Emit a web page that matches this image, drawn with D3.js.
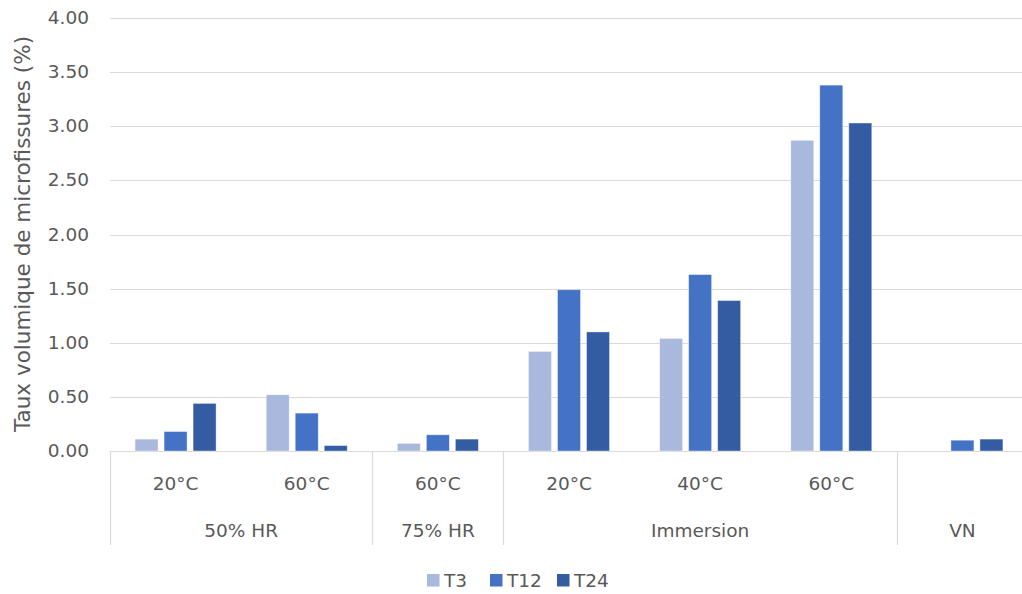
<!DOCTYPE html>
<html><head><meta charset="utf-8">
<script src="https://cdn.jsdelivr.net/npm/d3@7"></script>
<style>body{margin:0;background:#fff}svg{display:block;font-family:"DejaVu Sans",sans-serif}</style>
</head><body>
<script>
const categories = ["20°C","60°C","60°C","20°C","40°C","60°C",""];
const groups = [{name:"50% HR",count:2},{name:"75% HR",count:1},{name:"Immersion",count:3},{name:"VN",count:1}];
const seriesNames = ["T3","T12","T24"];
const T3  = [0.11,0.52,0.07,0.92,1.04,2.87,0];
const T12 = [0.18,0.35,0.15,1.49,1.63,3.38,0.10];
const T24 = [0.44,0.05,0.11,1.10,1.39,3.03,0.11];
const yTicks = [0,0.5,1,1.5,2,2.5,3,3.5,4];
const colors = ["#A9B9DD","#4472C4","#345CA3"];

const W=1022,H=594;
const svg=d3.select("body").append("svg").attr("width",W).attr("height",H);
const x0=110,x1=1028,yTop=18,yBot=451;
const idx=d3.range(categories.length);
const x=d3.scaleBand().domain(idx).range([x0,x1]).paddingInner(0).paddingOuter(0);
const y=d3.scaleLinear().domain([0,4]).range([yBot,yTop]);
const xs=d3.scaleBand().domain(seriesNames).range([0,x.bandwidth()]).paddingInner(0.207).paddingOuter(0.864);
const fs=18.5, txt="#595959";

// grid
svg.append("g").selectAll("line").data(yTicks).join("line")
 .attr("x1",x0).attr("x2",W).attr("y1",d=>Math.round(y(d))+0.5).attr("y2",d=>Math.round(y(d))+0.5)
 .attr("stroke","#D9D9D9").attr("stroke-width",1.2);
// y labels
svg.append("g").selectAll("text").data(yTicks).join("text")
 .attr("x",89).attr("y",d=>y(d)+6).attr("text-anchor","end")
 .attr("font-size",fs).attr("fill",txt).text(d=>d3.format(".2f")(d));
svg.append("text").attr("transform","translate(30,234) rotate(-90)")
 .attr("text-anchor","middle").attr("font-size",21.5).attr("fill",txt)
 .text("Taux volumique de microfissures (%)");

// bars
const series=[T3,T12,T24];
series.forEach((vals,si)=>{
  svg.append("g").selectAll("rect").data(idx.filter(i=>vals[i]>0)).join("rect")
   .attr("x",i=>x(i)+xs(seriesNames[si])).attr("width",xs.bandwidth())
   .attr("y",i=>y(vals[i])).attr("height",i=>yBot-y(vals[i]))
   .attr("fill",colors[si]).attr("stroke","#fff").attr("stroke-opacity",0.5).attr("stroke-width",0.8);
});

// category labels
svg.append("g").selectAll("text").data(idx).join("text")
 .attr("x",i=>x(i)+x.bandwidth()/2).attr("y",490).attr("text-anchor","middle")
 .attr("font-size",fs).attr("fill",txt).text(i=>categories[i]);
// group separators & labels
let start=0; const bounds=[0];
groups.forEach(g=>{
  const a=x(start), b=x(start+g.count-1)+x.bandwidth();
  svg.append("text").attr("x",(a+b)/2).attr("y",537).attr("text-anchor","middle")
   .attr("font-size",fs).attr("fill",txt).text(g.name);
  start+=g.count; bounds.push(start);
});
svg.append("g").selectAll("line").data(bounds).join("line")
 .attr("x1",i=>i<categories.length?Math.round(x(i))+0.5:x1).attr("x2",i=>i<categories.length?Math.round(x(i))+0.5:x1)
 .attr("y1",yBot).attr("y2",545).attr("stroke","#D9D9D9").attr("stroke-width",1.2);

// legend
const leg=svg.append("g");
const legX=[427,490,557];
seriesNames.forEach((s,i)=>{
  leg.append("rect").attr("x",legX[i]).attr("y",574).attr("width",12.5).attr("height",12.5).attr("fill",colors[i]);
  leg.append("text").attr("x",legX[i]+17).attr("y",587).attr("font-size",fs).attr("fill",txt).text(s);
});
</script>
</body></html>
